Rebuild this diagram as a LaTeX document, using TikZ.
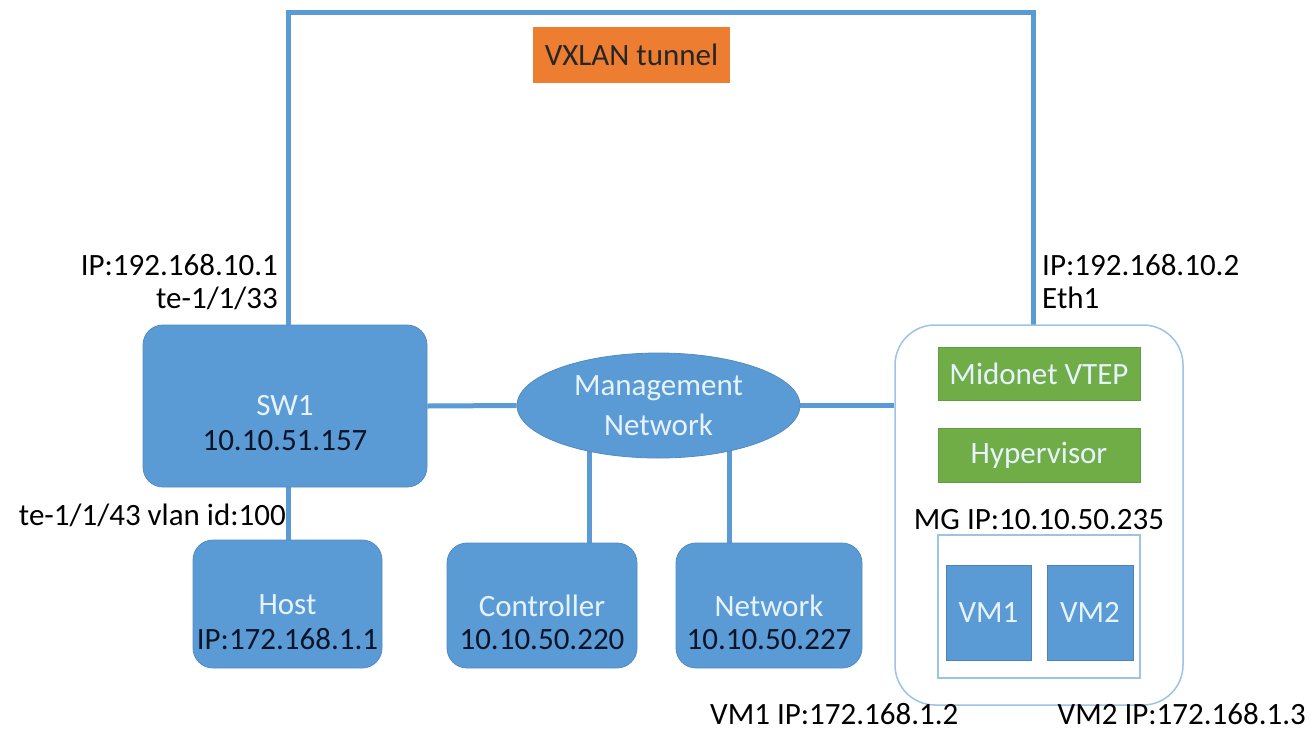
\documentclass[tikz,border=0pt]{standalone}
\usepackage{fontspec}
\setmainfont{Carlito}
\usetikzlibrary{shapes.geometric,backgrounds}
\definecolor{obl}{HTML}{5B9BD5}
\definecolor{ogr}{HTML}{70AD47}
\definecolor{oor}{HTML}{ED7D31}
\definecolor{lite}{HTML}{E6F3FF}
\definecolor{dark}{HTML}{0A1428}
\definecolor{bord}{HTML}{9DC3E6}
\tikzset{
  txt/.style={font=\fontsize{31}{35}\selectfont},
  bluebox/.style={txt,fill=obl,draw=obl!90!black,line width=0.8pt,rounded corners=20pt,align=center,inner sep=0pt,text=lite},
  greenbox/.style={txt,fill=ogr,draw=ogr!90!black,line width=0.8pt,inner sep=0pt,text=lite},
  vmbox/.style={txt,fill=obl,draw=obl!85!black,line width=1pt,inner sep=0pt,text=lite},
  link/.style={obl,line width=5pt},
  lbl/.style={txt,text=black,inner sep=0pt},
}
\begin{document}
\begin{tikzpicture}[x=1pt,y=-1pt]
\useasboundingbox (0,0) rectangle (1313,731);
% nodes
\node[bluebox,minimum width=284pt,minimum height=162pt] (sw1) at (285,406) {\\[20pt]SW1\\[0pt]\textcolor{dark}{10.10.51.157}};
\node[bluebox,minimum width=189pt,minimum height=128pt] (host) at (287.5,604) {\\[22pt]Host\\[0pt]\textcolor{dark}{IP:172.168.1.1}};
\node[bluebox,minimum width=190pt,minimum height=125pt] (ctrl) at (542,605.5) {\\[20pt]Controller\\[-2pt]\textcolor{dark}{10.10.50.220}};
\node[bluebox,minimum width=186pt,minimum height=125pt] (net) at (769,605.5) {\\[20pt]Network\\[-2pt]\textcolor{dark}{10.10.50.227}};
\node[ellipse,txt,fill=obl,draw=obl!90!black,line width=0.8pt,minimum width=283pt,minimum height=105pt,inner sep=0pt,align=center,text=lite] (ell) at (658.5,405.5) {Management\\[5pt]Network};
\node[draw=bord,fill=white,line width=1.5pt,rounded corners=40pt,minimum width=288pt,minimum height=380pt,inner sep=0pt] (mg) at (1039,515) {};
\node[greenbox,minimum width=202pt,minimum height=53pt] (vtep) at (1039,373.5) {Midonet VTEP};
\node[greenbox,minimum width=202pt,minimum height=54pt] (hyp) at (1039,455) {Hypervisor};
\node[lbl] (mgip) at (1039,520) {MG IP:10.10.50.235};
\node[draw=bord,fill=white,line width=1.5pt,minimum width=202pt,minimum height=143pt,inner sep=0pt] (inner) at (1039,606.5) {};
\node[vmbox,minimum width=85pt,minimum height=95pt] (vm1) at (988.5,612.5) {\raisebox{-5pt}{VM1}};
\node[vmbox,minimum width=86pt,minimum height=95pt] (vm2) at (1090,612.5) {\raisebox{-5pt}{VM2}};
\node[txt,fill=oor,inner sep=0pt,minimum width=197pt,minimum height=56pt,text=black!85] (vx) at (631.5,55) {VXLAN tunnel};
% labels
\node[lbl,anchor=east] (l1) at (278,265) {IP:192.168.10.1};
\node[lbl,anchor=east] (l2) at (278,298) {te-1/1/33};
\node[lbl,anchor=west] (r1) at (1042,265) {IP:192.168.10.2};
\node[lbl,anchor=west] (r2) at (1042,298) {Eth1};
\node[lbl,anchor=east] (l3) at (286,515) {te-1/1/43 vlan id:100};
\node[lbl,anchor=west] (b1) at (710,714) {VM1 IP:172.168.1.2};
\node[lbl,anchor=east] (b2) at (1306,714) {VM2 IP:172.168.1.3};
% connectors
\coordinate (tl) at (288,12);
\coordinate (tr) at (1033,12);
\coordinate (cx) at (589,405);
\coordinate (nx) at (729,405);
\begin{scope}[on background layer]
\draw[link,line cap=rect] (sw1.north -| tl) |- (tr) -- (tr |- mg.north);
\draw[link] (sw1.south -| tl) -- (host.north -| tl);
\draw[link] (sw1.east) -- (ell.west);
\draw[link] (ell.east) -- (ell.east -| mg.west);
\draw[link] (cx) -- (cx |- ctrl.north);
\draw[link] (nx) -- (nx |- net.north);
\end{scope}
\end{tikzpicture}
\end{document}
